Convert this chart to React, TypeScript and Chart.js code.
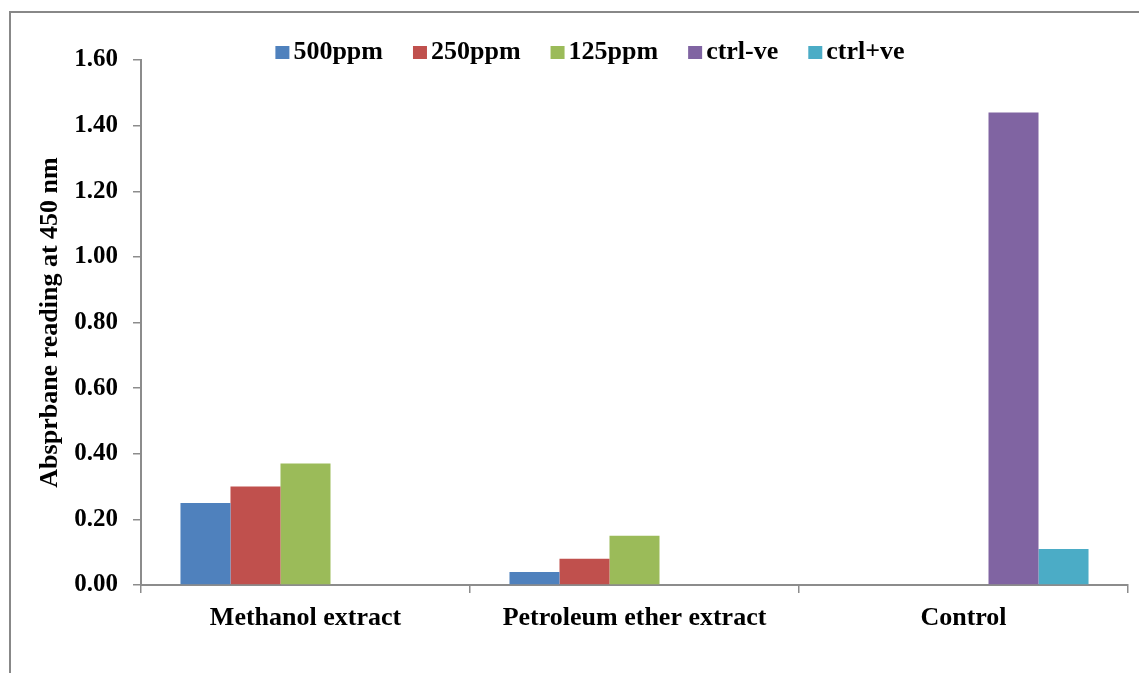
import React, { useEffect, useRef } from "react";
import { Chart, registerables } from "chart.js";

Chart.register(...registerables);

const categories = ["Methanol extract", "Petroleum ether extract", "Control"];
const seriesNames = ["500ppm", "250ppm", "125ppm", "ctrl-ve", "ctrl+ve"];
const s500 = [0.25, 0.04, null];
const s250 = [0.3, 0.08, null];
const s125 = [0.37, 0.15, null];
const sCtrlNeg = [null, null, 1.44];
const sCtrlPos = [null, null, 0.11];
const seriesColors = ["#4F81BD", "#C0504D", "#9BBB59", "#8064A2", "#4BACC6"];
const yTitle = "Absprbane reading at 450 nm";

const FONT = "'Liberation Serif', 'Times New Roman', serif";
const AXIS_GRAY = "#8c8c8c";

const frameAndLegend = {
  id: "frameAndLegend",
  afterDraw(chart: any) {
    const ctx = chart.ctx;
    const w = chart.width;
    const h = chart.height;
    ctx.save();
    // outer frame
    ctx.strokeStyle = "#888888";
    ctx.lineWidth = 2;
    ctx.beginPath();
    ctx.moveTo(2, h);
    ctx.lineTo(2, 4);
    ctx.lineTo(w, 4);
    ctx.stroke();

    // legend
    ctx.font = `bold 26px ${FONT}`;
    const box = 13;
    const gap = 5;
    const spacing = 30;
    const widths = seriesNames.map((n) => box + gap + ctx.measureText(n).width);
    const total = widths.reduce((a, b) => a + b, 0) + spacing * (seriesNames.length - 1);
    let x = 582 - total / 2;
    const baseline = 51;
    ctx.textBaseline = "alphabetic";
    ctx.textAlign = "left";
    seriesNames.forEach((n, i) => {
      ctx.fillStyle = seriesColors[i];
      ctx.fillRect(x, baseline - box, box + 1, box);
      ctx.fillStyle = "#000";
      ctx.fillText(n, x + box + gap, baseline);
      x += widths[i] + spacing;
    });
    ctx.restore();
  },
};

export default function App() {
  const ref = useRef<HTMLCanvasElement | null>(null);
  useEffect(() => {
    if (!ref.current) return;
    const datasets = [s500, s250, s125, sCtrlNeg, sCtrlPos].map((d, i) => ({
      label: seriesNames[i],
      data: d,
      backgroundColor: seriesColors[i],
      borderWidth: 0,
      categoryPercentage: 0.76,
      barPercentage: 1,
    }));
    const chart = new Chart(ref.current, {
      type: "bar",
      data: { labels: categories, datasets },
      options: {
        responsive: false,
        animation: false,
        layout: { padding: { top: 52, right: 11, left: 0, bottom: 0 } },
        plugins: {
          legend: { display: false },
          tooltip: { enabled: false },
        },
        scales: {
          x: {
            afterFit(scale: any) {
              scale.height = 88;
            },
            grid: {
              display: true,
              drawOnChartArea: false,
              drawTicks: true,
              tickLength: 8,
              color: AXIS_GRAY,
              lineWidth: 1.5,
            },
            border: { display: true, color: AXIS_GRAY, width: 2 },
            ticks: {
              color: "#000",
              padding: 10,
              font: { family: FONT, size: 26, weight: "bold" },
            },
          },
          y: {
            min: 0,
            max: 1.6,
            afterFit(scale: any) {
              scale.width = 133;
            },
            grid: {
              display: true,
              drawOnChartArea: false,
              drawTicks: true,
              tickLength: 8,
              color: AXIS_GRAY,
              lineWidth: 1.5,
            },
            border: { display: true, color: AXIS_GRAY, width: 2 },
            ticks: {
              stepSize: 0.2,
              color: "#000",
              padding: 15,
              font: { family: FONT, size: 25, weight: "bold" },
              callback: (v: any) => Number(v).toFixed(2),
            },
            title: {
              display: true,
              text: yTitle,
              color: "#000",
              padding: { top: 27, bottom: 0 },
              font: { family: FONT, size: 26, weight: "bold" },
            },
          },
        },
      },
      plugins: [frameAndLegend],
    });
    return () => chart.destroy();
  }, []);
  return (
    <canvas
      ref={ref}
      width={1131}
      height={665}
      style={{ display: "block", width: 1131, height: 665 }}
    />
  );
}
